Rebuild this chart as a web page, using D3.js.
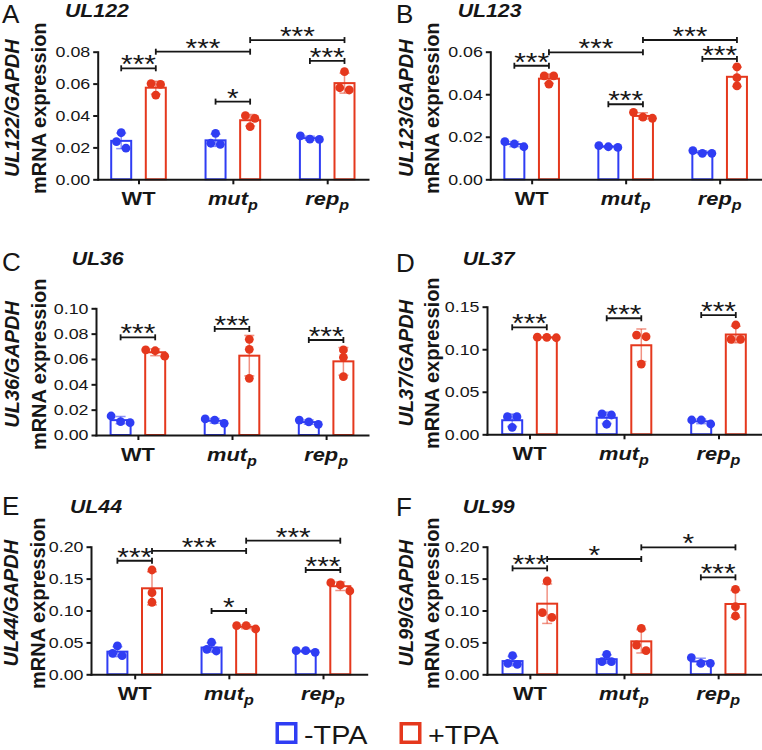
<!DOCTYPE html>
<html>
<head>
<meta charset="utf-8">
<script src="https://cdn.jsdelivr.net/npm/d3@7"></script>
<style>
  body { margin: 0; background: #fff; }
  svg { display: block; font-family: "Liberation Sans", Arial, Helvetica, sans-serif; }
</style>
</head>
<body>
<svg id="chart" width="762" height="750"></svg>
<script>
// ---------------- DATA ----------------
const groups = ["WT", "mut", "rep"];
const groupMain = ["WT", "mut", "rep"];
const groupSub = ["", "p", "p"];
const seriesNames = ["-TPA", "+TPA"];
const seriesColors = ["#2f3df4", "#e5381d"];
const panelLetters = ["A", "B", "C", "D", "E", "F"];
const genes = ["UL122", "UL123", "UL36", "UL37", "UL44", "UL99"];
const yMaxes = [0.08, 0.06, 0.10, 0.15, 0.20, 0.20];
const yTickSteps = [0.02, 0.02, 0.02, 0.05, 0.05, 0.05];

// replicate values: [WT, mut_p, rep_p]
const ul122Minus = [[0.0292, 0.0236, 0.0195], [0.0288, 0.0219, 0.0226], [0.0250, 0.0272, 0.0252]];
const ul122Plus  = [[0.0600, 0.0595, 0.0528], [0.0399, 0.0382, 0.0330], [0.0675, 0.0560, 0.0574]];
const ul123Minus = [[0.0153, 0.0177, 0.0166], [0.0153, 0.0158, 0.0150], [0.0122, 0.0135, 0.0122]];
const ul123Plus  = [[0.0486, 0.0486, 0.0448], [0.0315, 0.0287, 0.0292], [0.0529, 0.0478, 0.0439]];
const ul36Minus  = [[0.0150, 0.0097, 0.0105], [0.0118, 0.0127, 0.0092], [0.0084, 0.0118, 0.0103]];
const ul36Plus   = [[0.0672, 0.0665, 0.0622], [0.0755, 0.0676, 0.0447], [0.0671, 0.0613, 0.0460]];
const ul37Minus  = [[0.0207, 0.0207, 0.0082], [0.0239, 0.0227, 0.0118], [0.0168, 0.0168, 0.0121]];
const ul37Plus   = [[0.1135, 0.1140, 0.1142], [0.1167, 0.1147, 0.0826], [0.1285, 0.1117, 0.1117]];
const ul44Minus  = [[0.0444, 0.0292, 0.0329], [0.0502, 0.0365, 0.0392], [0.0345, 0.0370, 0.0370]];
const ul44Plus   = [[0.1635, 0.1280, 0.1129], [0.0710, 0.0762, 0.0762], [0.1436, 0.1400, 0.1306]];
const ul99Minus  = [[0.0292, 0.0157, 0.0172], [0.0313, 0.0198, 0.0198], [0.0260, 0.0172, 0.0172]];
const ul99Plus   = [[0.1462, 0.0893, 0.0966], [0.0721, 0.0370, 0.0459], [0.1332, 0.1060, 0.0914]];

// significance: [fromGroup, fromSeries, toGroup, toSeries, yValue, label]
const ul122Sig = [[0,0,0,1,0.0696,"***"],[0,1,1,1,0.0800,"***"],[1,1,2,1,0.0873,"***"],[2,0,2,1,0.0742,"***"],[1,0,1,1,0.0487,"*"]];
const ul123Sig = [[0,0,0,1,0.0534,"***"],[0,1,1,1,0.0597,"***"],[1,1,2,1,0.0655,"***"],[2,0,2,1,0.0566,"***"],[1,0,1,1,0.0353,"***"]];
const ul36Sig  = [[0,0,0,1,0.0771,"***"],[1,0,1,1,0.0837,"***"],[2,0,2,1,0.0750,"***"]];
const ul37Sig  = [[0,0,0,1,0.1258,"***"],[1,0,1,1,0.1364,"***"],[2,0,2,1,0.1402,"***"]];
const ul44Sig  = [[0,0,0,1,0.1780,"***"],[0,1,1,1,0.1933,"***"],[1,1,2,1,0.2094,"***"],[2,0,2,1,0.1635,"***"],[1,0,1,1,0.0992,"*"]];
const ul99Sig  = [[0,0,0,1,0.1661,"***"],[0,1,1,1,0.1807,"*"],[1,1,2,1,0.1990,"*"],[2,0,2,1,0.1520,"***"]];

const panelData = [
  [ul122Minus, ul122Plus], [ul123Minus, ul123Plus], [ul36Minus, ul36Plus],
  [ul37Minus, ul37Plus], [ul44Minus, ul44Plus], [ul99Minus, ul99Plus]
];
const panelSig = [ul122Sig, ul123Sig, ul36Sig, ul37Sig, ul44Sig, ul99Sig];

// ---------------- LAYOUT ----------------
const layout = [
  {axisX: 97.7, xEnd: 368, c0: 138,   c2: 326.7, yTop: 51.7,  yBottom: 179.3, letterX: 2,   letterY: 22.5, titleX: 65,    titleY: 17,    lab1X: 19.3,  lab2X: 45.5},
  {axisX: 490.3, xEnd: 761, c0: 531,  c2: 719,   yTop: 51.7,  yBottom: 179.3, letterX: 396, letterY: 22.5, titleX: 457.7, titleY: 17,    lab1X: 413.3, lab2X: 439},
  {axisX: 96,   xEnd: 368, c0: 138.3, c2: 326.5, yTop: 308.3, yBottom: 435,   letterX: 2,   letterY: 271,  titleX: 71.7,  titleY: 264.5, lab1X: 19,    lab2X: 45.5},
  {axisX: 487,  xEnd: 761, c0: 529,   c2: 718,   yTop: 306.7, yBottom: 434.3, letterX: 396, letterY: 272,  titleX: 462.7, titleY: 264.5, lab1X: 412.7, lab2X: 438.5},
  {axisX: 91,   xEnd: 366.7, c0: 136.7, c2: 325, yTop: 546.7, yBottom: 674.3, letterX: 2,   letterY: 515,  titleX: 70,    titleY: 512.5, lab1X: 18.3,  lab2X: 44.5},
  {axisX: 487,  xEnd: 761, c0: 528.7, c2: 717,   yTop: 546.7, yBottom: 674.3, letterX: 396, letterY: 515.5, titleX: 462.7, titleY: 512.5, lab1X: 413.3, lab2X: 438.5}
];

const SX = 1.15;            // horizontal widening of the original figure's text
const INK = "#161616";
const svg = d3.select("#chart");

function addText(parent, x, y, o) {
  const t = parent.append("text")
    .attr("transform", `translate(${x},${y}) scale(${o.sx ?? SX},1)` + (o.rotate ? ` rotate(${o.rotate})` : ""))
    .attr("text-anchor", o.anchor || "start")
    .attr("font-size", o.size)
    .attr("font-weight", o.weight || "normal")
    .attr("font-style", o.style || "normal")
    .attr("fill", o.fill || INK);
  if (o.dy) t.attr("dy", o.dy);
  if (o.text !== undefined) t.text(o.text);
  return t;
}

function jitter(vals, y) {
  const order = d3.range(vals.length).sort((a, b) => vals[b] - vals[a]);
  const offs = new Array(vals.length).fill(0);
  let cluster = [order[0]];
  const flush = () => {
    const n = cluster.length;
    cluster.forEach((k, i) => { offs[k] = (i - (n - 1) / 2) * 9.5; });
  };
  for (let i = 1; i < order.length; i++) {
    const prev = cluster[cluster.length - 1];
    if (Math.abs(y(vals[order[i]]) - y(vals[prev])) < 7) cluster.push(order[i]);
    else { flush(); cluster = [order[i]]; }
  }
  flush();
  return offs;
}

layout.forEach((L, i) => {
  const g = svg.append("g");
  const yMax = yMaxes[i];
  const y = d3.scaleLinear().domain([0, yMax]).range([L.yBottom, L.yTop]);
  const stepPx = (L.c2 - L.c0) / 2;
  const pad = ((L.c0 - L.axisX) + (L.xEnd - L.c2)) / 2 / stepPx;
  const x = d3.scalePoint().domain(groups).range([L.axisX, L.xEnd]).padding(pad);
  const off = d3.scalePoint().domain(seriesNames).range([-17.3, 17.3]);
  const cx = (gi, si) => x(groups[gi]) + off(seriesNames[si]);

  const cells = [];
  panelData[i].forEach((ser, si) => ser.forEach((vals, gi) => {
    cells.push({gi, si, vals, mean: d3.mean(vals), sd: d3.deviation(vals)});
  }));

  // bars
  g.selectAll("rect.bar").data(cells).join("rect")
    .attr("x", d => cx(d.gi, d.si) - 10)
    .attr("width", 20)
    .attr("y", d => y(d.mean))
    .attr("height", d => y(0) - y(d.mean))
    .attr("fill", "#fff")
    .attr("stroke", d => seriesColors[d.si])
    .attr("stroke-width", 2);

  // error bars
  cells.forEach(d => {
    const xc = cx(d.gi, d.si);
    const eg = g.append("g").attr("stroke", seriesColors[d.si]).attr("stroke-opacity", 0.55).attr("stroke-width", 1.5);
    eg.append("line").attr("x1", xc).attr("x2", xc).attr("y1", y(d.mean - d.sd)).attr("y2", y(d.mean + d.sd));
    [d.mean - d.sd, d.mean + d.sd].forEach(v => {
      eg.append("line").attr("x1", xc - 5).attr("x2", xc + 5).attr("y1", y(v)).attr("y2", y(v));
    });
  });

  // points
  cells.forEach(d => {
    const offs = jitter(d.vals, y);
    g.selectAll(null).data(d.vals).join("circle")
      .attr("cx", (v, k) => cx(d.gi, d.si) + offs[k])
      .attr("cy", v => y(v))
      .attr("r", 4.4)
      .attr("fill", seriesColors[d.si]);
  });

  // y axis
  const yAxis = d3.axisLeft(y)
    .tickValues(d3.range(0, yMax + 1e-9, yTickSteps[i]))
    .tickFormat(d3.format(".2f"))
    .tickSize(4.5).tickSizeOuter(0).tickPadding(3);
  const ya = g.append("g").attr("transform", `translate(${L.axisX},0)`).call(yAxis)
    .attr("font-family", null).attr("font-size", 15.5);
  ya.select(".domain").attr("stroke", INK).attr("stroke-width", 2).attr("stroke-linecap", "square");
  ya.selectAll(".tick line").attr("stroke", INK).attr("stroke-width", 2);
  ya.selectAll(".tick text").each(function () {
    const t = d3.select(this);
    const tx = +t.attr("x");
    t.attr("x", 0).attr("transform", `translate(${tx},0) scale(${SX},1)`).attr("fill", INK);
  });

  // x axis
  const xAxis = d3.axisBottom(x).tickSize(5).tickSizeOuter(0).tickFormat("");
  const xa = g.append("g").attr("transform", `translate(0,${L.yBottom})`).call(xAxis);
  xa.select(".domain").attr("stroke", INK).attr("stroke-width", 2).attr("stroke-linecap", "square");
  xa.selectAll(".tick line").attr("stroke", INK).attr("stroke-width", 2);

  // category labels
  groups.forEach((grp, gi) => {
    const t = addText(g, x(grp), L.yBottom + 25.7, {anchor: "middle", size: 19, weight: "bold"});
    if (groupSub[gi]) {
      t.append("tspan").attr("font-style", "italic").text(groupMain[gi]);
      t.append("tspan").attr("font-style", "italic").attr("font-size", 14).attr("dy", 5).text(groupSub[gi]);
    } else {
      t.text(groupMain[gi]);
    }
  });

  // y label (two lines, rotated)
  const cy = (L.yTop + L.yBottom) / 2 - 7.3;
  addText(g, L.lab1X, cy, {anchor: "middle", size: 20, sx: 1, weight: "bold", style: "italic", rotate: -90, text: genes[i] + "/GAPDH"});
  addText(g, L.lab2X, cy, {anchor: "middle", size: 20, sx: 1, weight: "bold", rotate: -90, text: "mRNA expression"});

  // title + panel letter
  addText(g, L.titleX, L.titleY, {size: 18.5, weight: "bold", style: "italic", text: genes[i]});
  addText(g, L.letterX, L.letterY, {size: 26, sx: 1.0, text: panelLetters[i]});

  // significance brackets
  panelSig[i].forEach(s => {
    const x1 = cx(s[0], s[1]), x2 = cx(s[2], s[3]), yy = y(s[4]);
    const sg = g.append("g").attr("stroke", INK).attr("stroke-width", 1.8);
    sg.append("line").attr("x1", x1).attr("x2", x2).attr("y1", yy).attr("y2", yy);
    [x1, x2].forEach(xx => sg.append("line").attr("x1", xx).attr("x2", xx).attr("y1", yy - 3).attr("y2", yy + 3));
    addText(g, (x1 + x2) / 2, yy + 5, {anchor: "middle", size: 26, text: s[5]});
  });
});

// legend
const legend = svg.append("g");
const legendX = [275.5, 399.5];
seriesNames.forEach((nm, si) => {
  legend.append("rect")
    .attr("x", legendX[si] + 1.75).attr("y", 722 + 1.75)
    .attr("width", 18.5).attr("height", 18.5)
    .attr("fill", "#fff").attr("stroke", seriesColors[si]).attr("stroke-width", 3.5);
  addText(legend, legendX[si] + 28.5, 744, {size: 25, text: nm});
});
</script>
</body>
</html>
